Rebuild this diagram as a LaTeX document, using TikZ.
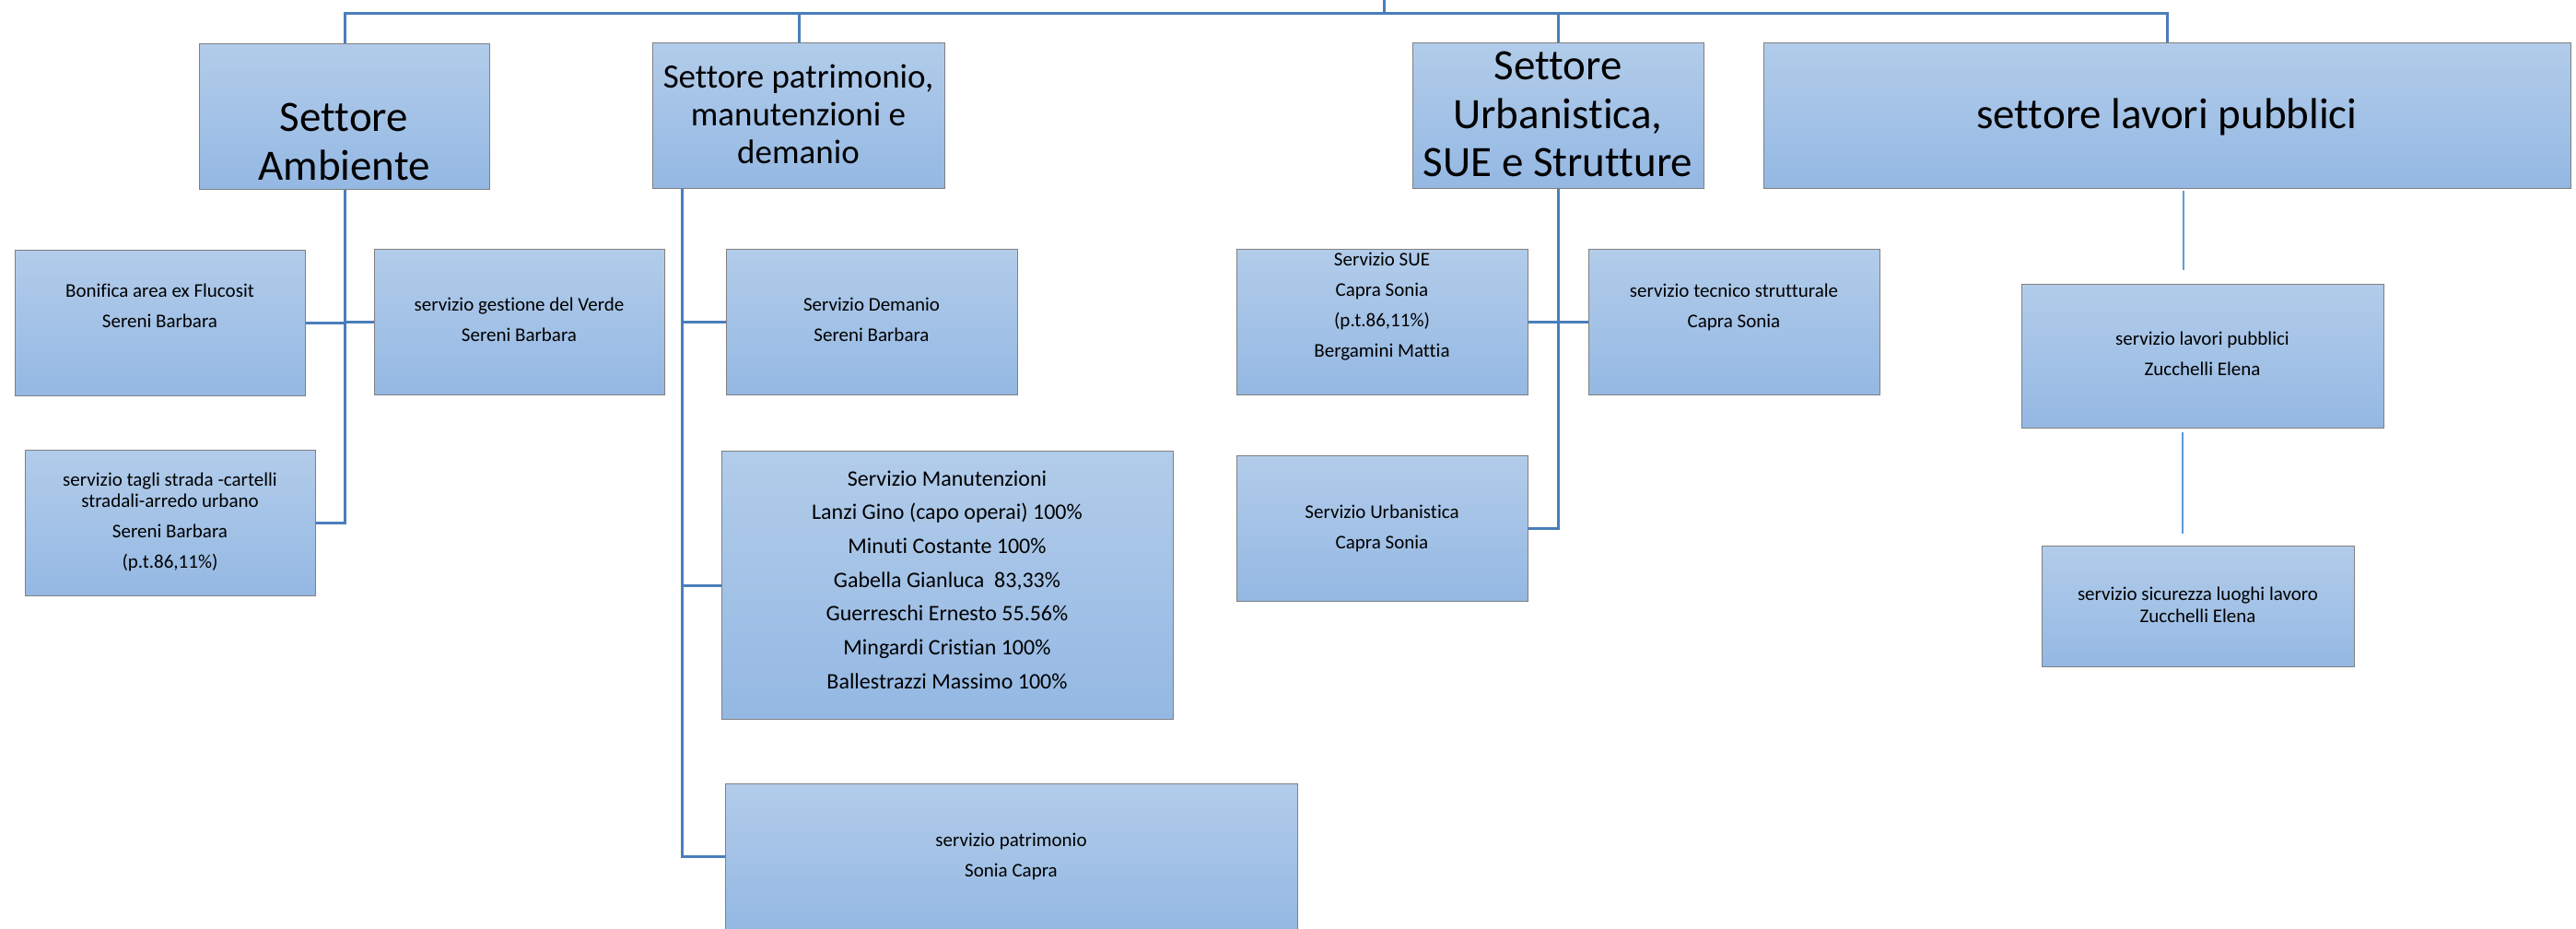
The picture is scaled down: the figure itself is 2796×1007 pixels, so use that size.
\documentclass[tikz,border=0pt]{standalone}
\usepackage{fontspec}
\setmainfont{Carlito}[Ligatures=NoCommon]
\usetikzlibrary{calc}
\definecolor{linkblue}{RGB}{74,126,187}
\definecolor{boxtop}{RGB}{178,204,234}
\definecolor{boxbot}{RGB}{148,184,227}
\definecolor{boxedge}{RGB}{128,128,128}
\definecolor{faintblue}{RGB}{91,155,213}
\newcommand\orgBig{\fontsize{47}{52.5}\selectfont}
\newcommand\orgMid{\fontsize{37}{41}\selectfont}
\newcommand\orgMan{\fontsize{24}{36.7}\selectfont}
\newcommand\orgSml{\fontsize{21}{33}\selectfont}
\newcommand\orgTight{\fontsize{21}{24}\selectfont}
\begin{document}
\begin{tikzpicture}[x=1pt,y=-1pt,
  orgbox/.style={draw=boxedge, line width=1.4pt, top color=boxtop, bottom color=boxbot,
    anchor=north west, inner sep=0pt, minimum width=#1},
  orgbox/.default=315pt,
  txt/.style={align=center, inner sep=0pt, text=black, font=\orgSml},
  link/.style={draw=linkblue, line width=3pt},
  faint/.style={draw=faintblue, line width=1.6pt}]
\useasboundingbox (0,0) rectangle (2796,1007);
\clip (0,0) rectangle (2796,1007);

% settori
\node[orgbox=315pt, minimum height=158pt] (amb) at (216,47) {};
\node[orgbox=317pt, minimum height=158pt] (pat) at (708,46) {};
\node[orgbox=316pt, minimum height=158pt] (urb) at (1533,46) {};
\node[orgbox=876pt, minimum height=158pt] (lav) at (1914,46) {};

\node[txt, font=\orgBig] (amb-t) at (373.5,154) {Settore\\Ambiente};
\node[txt, font=\orgMid] (pat-t) at (866.5,124) {Settore patrimonio,\\manutenzioni e\\demanio};
\node[txt, font=\orgBig] (urb-t) at (1691,124) {Settore\\Urbanistica,\\SUE e Strutture};
\node[txt, font=\orgBig] (lav-t) at (2352,127) {settore lavori pubblici};

% servizi
\node[orgbox=315pt, minimum height=158pt] (bon) at (16,271) {};
\node[orgbox=315pt, minimum height=158pt] (ver) at (406,270) {};
\node[orgbox=315pt, minimum height=158pt] (tag) at (27,488) {};
\node[orgbox=316pt, minimum height=158pt] (dem) at (788,270) {};
\node[orgbox=490pt, minimum height=291pt] (man) at (783,489) {};
\node[orgbox=621pt, minimum height=158pt] (spa) at (787,850) {};
\node[orgbox=316pt, minimum height=158pt] (sue) at (1342,270) {};
\node[orgbox=316pt, minimum height=158pt] (tec) at (1724,270) {};
\node[orgbox=316pt, minimum height=158pt] (sur) at (1342,494) {};
\node[orgbox=393pt, minimum height=156pt] (slp) at (2194,308) {};
\node[orgbox=339pt, minimum height=131pt] (sic) at (2216,592) {};

\node[txt] (bon-t) at (173.5,332) {Bonifica area ex Flucosit\\Sereni Barbara};
\node[txt] (ver-t) at (563.5,347) {servizio gestione del Verde\\Sereni Barbara};
\node[txt] (tag-t) at (184.5,566) {servizio tagli strada -cartelli\\[-10pt]stradali-arredo urbano\\Sereni Barbara\\(p.t.86,11\%)};
\node[txt] (dem-t) at (946,347) {Servizio Demanio\\Sereni Barbara};
\node[txt, font=\orgMan] (man-t) at (1028,629) {Servizio Manutenzioni\\Lanzi Gino (capo operai) 100\%\\Minuti Costante 100\%\\Gabella Gianluca\ \ 83,33\%\\Guerreschi Ernesto 55.56\%\\Mingardi Cristian 100\%\\Ballestrazzi Massimo 100\%};
\node[txt] (spa-t) at (1097.5,929) {servizio patrimonio\\Sonia Capra};
\node[txt] (sue-t) at (1500,333) {Servizio SUE\\Capra Sonia\\(p.t.86,11\%)\\Bergamini Mattia};
\node[txt] (tec-t) at (1882,333) {servizio tecnico strutturale\\Capra Sonia};
\node[txt] (sur-t) at (1500,573) {Servizio Urbanistica\\Capra Sonia};
\node[txt] (slp-t) at (2390.5,384) {servizio lavori pubblici\\Zucchelli Elena};
\node[txt, font=\orgTight] (sic-t) at (2385.5,656) {servizio sicurezza luoghi lavoro\\Zucchelli Elena};

% connectors from the top
\coordinate (rootTop) at (1502,0);
\coordinate (rootJ) at (1502,14);
\draw[link] (rootTop) -- (rootJ);
\draw[link] (amb.north) |- (rootJ);
\draw[link] (pat.north) |- (rootJ);
\draw[link] (urb.north) |- (rootJ);
\draw[link] (lav.north) |- (rootJ);

% Ambiente
\draw[link] (amb.south) |- (tag.east);
\draw[link] (bon.east) -- (bon.east -| amb.south);
\draw[link] (ver.west) -- (ver.west -| amb.south);

% Patrimonio
\coordinate (patV) at ($(pat.south west)+(32,0)$);
\draw[link] (patV) |- (spa.west);
\draw[link] (dem.west) -- (dem.west -| patV);
\draw[link] (man.west) -- (man.west -| patV);

% Urbanistica
\draw[link] (urb.south) |- (sur.east);
\draw[link] (sue.east) -- (sue.east -| urb.south);
\draw[link] (tec.west) -- (tec.west -| urb.south);

% Lavori pubblici
\coordinate (l1a) at (2370,207);
\coordinate (l1b) at (2370,293);
\coordinate (l2a) at (2369,469);
\coordinate (l2b) at (2369,579);
\draw[faint] (l1a) -- (l1b);
\draw[faint] (l2a) -- (l2b);
\end{tikzpicture}
\end{document}
